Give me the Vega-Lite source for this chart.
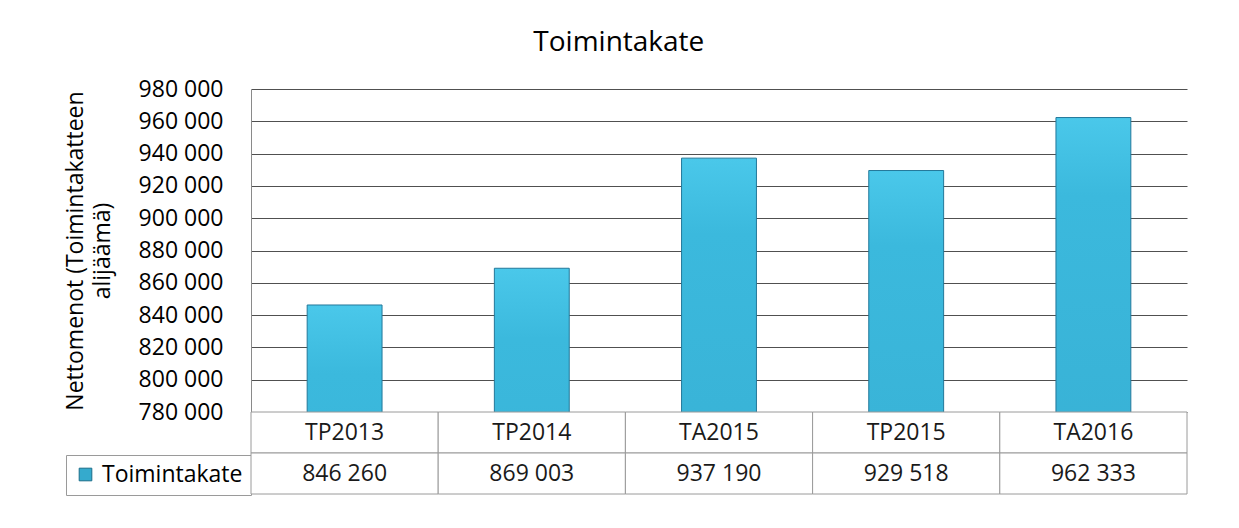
{
  "$schema": "https://vega.github.io/schema/vega-lite/v6.json",
  "background": "white",
  "padding": {"left": 64, "top": 29, "right": 5, "bottom": 5},
  "title": {"text": "Toimintakate", "font": "Open Sans", "fontSize": 28, "fontWeight": "normal", "color": "#000000", "anchor": "middle", "offset": 21, "dx": -7},
  "config": {
    "locale": {"number": {"decimal": ",", "thousands": " ", "grouping": [3], "currency": ["", " €"]}},
    "font": "Open Sans",
    "view": {"stroke": null}
  },
  "data": {"values": [
    {"category": "TP2013", "value": 846260},
    {"category": "TP2014", "value": 869003},
    {"category": "TA2015", "value": 937190},
    {"category": "TP2015", "value": 929518},
    {"category": "TA2016", "value": 962333}
  ]},
  "spacing": 0,
  "bounds": "flush",
  "resolve": {"scale": {"x": "independent", "y": "independent", "color": "independent"}, "legend": {"color": "independent"}},
  "vconcat": [
    {
      "width": 936,
      "height": 323,
      "mark": {
        "type": "bar", "clip": true, "stroke": "#23789a", "strokeWidth": 1,
        "fill": {"gradient": "linear", "x1": 0, "y1": 0, "x2": 0, "y2": 1, "stops": [
          {"offset": 0, "color": "#4ac8ea"},
          {"offset": 0.05, "color": "#3bb9dd"},
          {"offset": 1, "color": "#2b8fb3"}
        ]}
      },
      "encoding": {
        "x": {"field": "category", "type": "nominal", "sort": null, "scale": {"paddingInner": 0.6, "paddingOuter": 0.3}, "axis": null},
        "y": {
          "field": "value", "type": "quantitative",
          "scale": {"domain": [780000, 980000], "nice": false, "zero": false},
          "axis": {
            "values": [780000, 800000, 820000, 840000, 860000, 880000, 900000, 920000, 940000, 960000, 980000],
            "format": ",d",
            "title": ["Nettomenot (Toimintakatteen", "alijäämä)"],
            "titleFont": "Open Sans", "titleFontSize": 23, "titleFontWeight": "normal", "titleColor": "#000000",
            "titleLineHeight": 27, "titlePadding": 24,
            "labelFont": "Open Sans", "labelFontSize": 23, "labelColor": "#000000", "labelPadding": 28,
            "ticks": false,
            "domainColor": "#8a8a8a", "domainWidth": 1,
            "grid": true, "gridColor": "#505050", "gridWidth": 1
          }
        },
        "color": {
          "datum": "Toimintakate", "type": "nominal",
          "scale": {"range": ["#35aacd"]},
          "legend": {
            "orient": "none", "legendX": -185, "legendY": 366,
            "title": null, "padding": 8,
            "strokeColor": "#9a9a9a", "fillColor": "white",
            "symbolType": "square", "symbolSize": 160,
            "symbolStrokeColor": "#1d6e8a", "symbolStrokeWidth": 1, "symbolOpacity": 1,
            "labelFont": "Open Sans", "labelFontSize": 23, "labelColor": "#000000",
            "labelOffset": 5, "labelLimit": 400
          }
        }
      }
    },
    {
      "width": 936,
      "height": 82,
      "encoding": {
        "x": {"field": "category", "type": "nominal", "sort": null, "scale": {"paddingInner": 0, "paddingOuter": 0}, "axis": null}
      },
      "layer": [
        {
          "mark": {"type": "rect", "fill": "white", "stroke": "#9a9a9a", "strokeWidth": 1},
          "encoding": {"y": {"datum": "cat", "type": "nominal", "scale": {"domain": ["cat", "val"], "paddingInner": 0, "paddingOuter": 0}, "axis": null}}
        },
        {
          "mark": {"type": "rect", "fill": "white", "stroke": "#9a9a9a", "strokeWidth": 1},
          "encoding": {"y": {"datum": "val", "type": "nominal"}}
        },
        {
          "mark": {"type": "text", "font": "Open Sans", "fontSize": 23, "color": "#1a1a1a", "baseline": "middle"},
          "encoding": {
            "y": {"datum": "cat", "type": "nominal"},
            "text": {"field": "category", "type": "nominal"}
          }
        },
        {
          "mark": {"type": "text", "font": "Open Sans", "fontSize": 23, "color": "#1a1a1a", "baseline": "middle"},
          "encoding": {
            "y": {"datum": "val", "type": "nominal"},
            "text": {"field": "value", "type": "quantitative", "format": ",d"}
          }
        }
      ]
    }
  ]
}
